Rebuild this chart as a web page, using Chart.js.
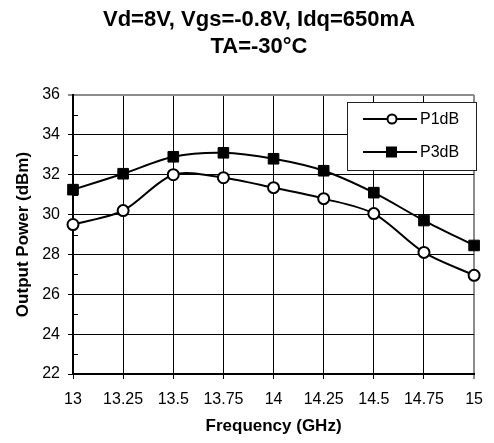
<!DOCTYPE html>
<html>
<head>
<meta charset="utf-8">
<script src="https://cdn.jsdelivr.net/npm/chart.js@4.4.0/dist/chart.umd.min.js"></script>
<style>
html,body{margin:0;padding:0;background:#fff;}
#wrap{width:494px;height:443px;position:relative;}
</style>
</head>
<body>
<div id="wrap"><canvas id="c" width="494" height="443"></canvas></div>
<script>
const titleLines = ['Vd=8V, Vgs=-0.8V, Idq=650mA', 'TA=-30°C'];
const frequencies = ['13', '13.25', '13.5', '13.75', '14', '14.25', '14.5', '14.75', '15'];
const p1dB = [29.5, 30.2, 32.0, 31.85, 31.35, 30.8, 30.05, 28.1, 26.95];
const p3dB = [31.25, 32.05, 32.9, 33.1, 32.8, 32.2, 31.1, 29.7, 28.45];
const seriesNames = ['P1dB', 'P3dB'];
const xTitle = 'Frequency (GHz)';
const yTitle = 'Output Power (dBm)';
const yMin = 22, yMax = 36, yStep = 2;

const FONT = "'Liberation Sans', Arial, sans-serif";

const titlePlugin = {
  id: 'customTitle',
  afterDraw(chart) {
    const ctx = chart.ctx;
    ctx.save();
    ctx.fillStyle = '#000';
    ctx.font = 'bold 22px ' + FONT;
    ctx.textAlign = 'center';
    ctx.textBaseline = 'middle';
    ctx.fillText(titleLines[0], 259, 20);
    ctx.fillText(titleLines[1], 259, 47);
    ctx.restore();
  }
};

const framePlugin = {
  id: 'frame',
  afterDatasetsDraw(chart) {
    const ctx = chart.ctx;
    const a = chart.chartArea;
    const y = chart.scales.y;
    ctx.save();
    // minor ticks inside left axis
    ctx.strokeStyle = '#000';
    ctx.lineWidth = 1;
    for (let v = yMin + 1; v < yMax; v += 2) {
      const py = Math.round(y.getPixelForValue(v)) + 0.5;
      ctx.beginPath();
      ctx.moveTo(a.left, py);
      ctx.lineTo(a.left + 5, py);
      ctx.stroke();
    }
    // legend box
    const bx = 347, by = 102, bw = 129, bh = 68;
    ctx.fillStyle = '#fff';
    ctx.fillRect(bx, by, bw, bh);
    ctx.strokeStyle = '#222';
    ctx.lineWidth = 1;
    ctx.strokeRect(bx + 0.5, by + 0.5, bw, bh);
    const rows = [by + 17, by + 50];
    chart.data.datasets.forEach((ds, i) => {
      const ry = rows[i];
      ctx.strokeStyle = '#000';
      ctx.lineWidth = 2;
      ctx.beginPath();
      ctx.moveTo(363, ry);
      ctx.lineTo(417, ry);
      ctx.stroke();
      if (ds.pointStyle === 'circle') {
        ctx.beginPath();
        ctx.arc(392, ry, 4.5, 0, Math.PI * 2);
        ctx.fillStyle = '#fff';
        ctx.fill();
        ctx.stroke();
      } else {
        ctx.fillStyle = '#000';
        ctx.fillRect(386, ry - 5.5, 11, 11);
      }
      ctx.fillStyle = '#000';
      ctx.font = '16px ' + FONT;
      ctx.textAlign = 'left';
      ctx.textBaseline = 'middle';
      ctx.fillText(ds.label, 420, ry + 1);
    });
    ctx.restore();
  }
};

new Chart(document.getElementById('c'), {
  type: 'line',
  data: {
    labels: frequencies,
    datasets: [
      {
        label: seriesNames[0],
        data: p1dB,
        borderColor: '#000',
        borderWidth: 2,
        backgroundColor: '#fff',
        pointStyle: 'circle',
        pointRadius: 5.5,
        pointBorderWidth: 2,
        pointBackgroundColor: '#fff',
        pointBorderColor: '#000',
        tension: 0.3
      },
      {
        label: seriesNames[1],
        data: p3dB,
        borderColor: '#000',
        borderWidth: 2,
        backgroundColor: '#000',
        pointStyle: 'rect',
        pointRadius: 7.5,
        pointBorderWidth: 1,
        pointBackgroundColor: '#000',
        pointBorderColor: '#000',
        tension: 0.3
      }
    ]
  },
  options: {
    responsive: false,
    animation: false,
    devicePixelRatio: 1,
    layout: { padding: { top: 95, right: 13, bottom: 0, left: 0 } },
    plugins: {
      legend: { display: false },
      title: { display: false },
      tooltip: { enabled: false }
    },
    scales: {
      x: {
        type: 'category',
        offset: false,
        afterFit(s) { s.height = 69; },
        grid: {
          color: (c) => (c.index === frequencies.length - 1 ? '#8c8c8c' : '#000'),
          lineWidth: (c) => (c.index === frequencies.length - 1 ? 2 : 1),
          tickLength: 5,
          drawOnChartArea: true
        },
        border: { color: '#000', width: 2 },
        ticks: {
          color: '#000',
          font: { family: FONT, size: 16 },
          padding: 11,
          maxRotation: 0,
          autoSkip: false
        },
        title: {
          display: true,
          text: xTitle,
          color: '#000',
          font: { family: FONT, size: 17, weight: 'bold' },
          padding: { top: 4, bottom: 6 }
        }
      },
      y: {
        min: yMin,
        max: yMax,
        afterFit(s) { s.width = 73; },
        grid: {
          color: (c) => (c.tick && c.tick.value === yMax ? '#8c8c8c' : '#000'),
          lineWidth: (c) => (c.tick && c.tick.value === yMax ? 2 : 1),
          tickLength: 5
        },
        border: { color: '#000', width: 2 },
        ticks: {
          stepSize: yStep,
          color: '#000',
          font: { family: FONT, size: 16 },
          padding: 8
        },
        title: {
          display: true,
          text: yTitle,
          color: '#000',
          font: { family: FONT, size: 17, weight: 'bold' },
          padding: { top: 13, bottom: 0 }
        }
      }
    }
  },
  plugins: [titlePlugin, framePlugin]
});
</script>
</body>
</html>
